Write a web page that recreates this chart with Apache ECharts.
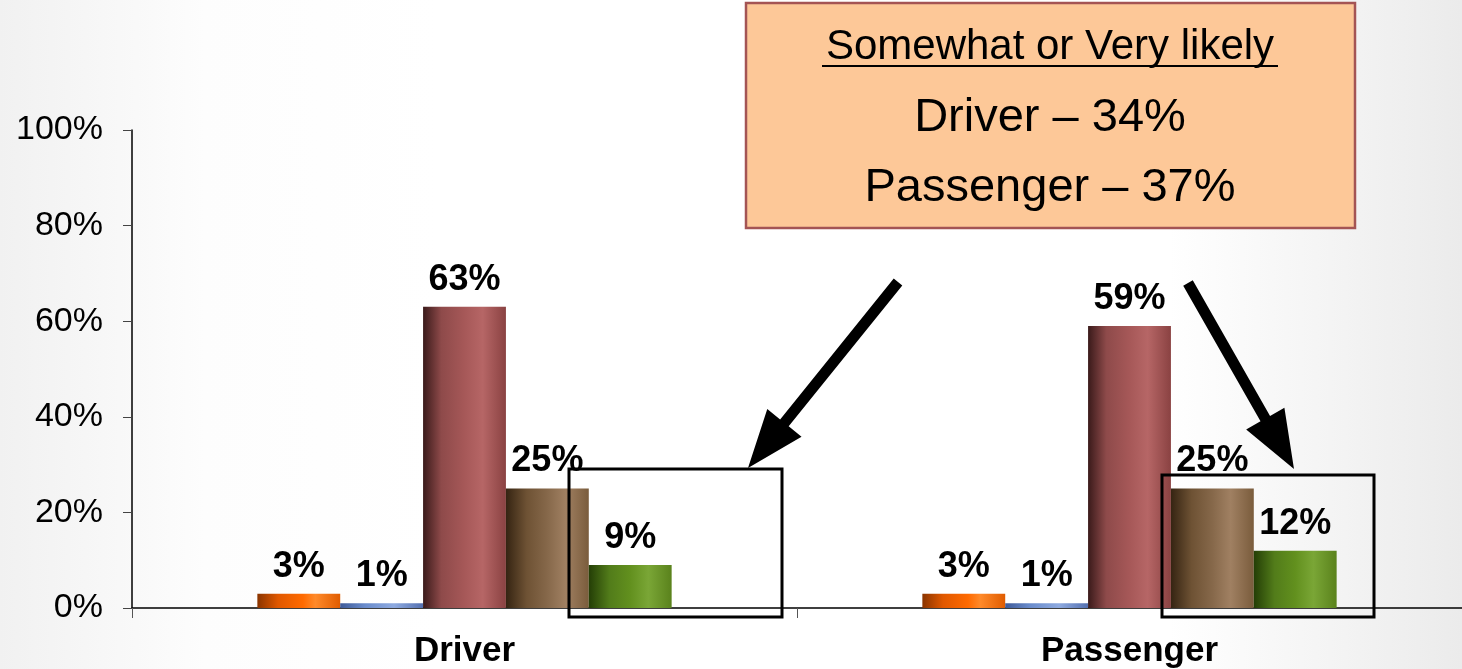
<!DOCTYPE html>
<html>
<head>
<meta charset="utf-8">
<script src="https://cdn.jsdelivr.net/npm/echarts@6/dist/echarts.min.js"></script>
<style>
html,body{margin:0;padding:0;}
#chart{width:1462px;height:669px;}
</style>
</head>
<body>
<div id="chart"></div>
<script>
// ---- data ----
var categories = ['Driver', 'Passenger'];
var seriesNames = ["Don't know", 'Refused', 'Not likely', 'Somewhat likely', 'Very likely'];
var dontKnow = [3, 3];
var refused = [1, 1];
var notLikely = [63, 59];
var somewhatLikely = [25, 25];
var veryLikely = [9, 12];
var yTicks = [0, 20, 40, 60, 80, 100];
var calloutTitle = 'Somewhat or Very likely';
var calloutLines = ['Driver \u2013 34%', 'Passenger \u2013 37%'];

var seriesValues = [dontKnow, refused, notLikely, somewhatLikely, veryLikely];

function grad(stops) {
  return new echarts.graphic.LinearGradient(0, 0, 1, 0, stops.map(function (s) { return { offset: s[0], color: s[1] }; }));
}
var barColors = [
  grad([[0, '#8a3400'], [0.25, '#e05800'], [0.55, '#ff6a00'], [0.7, '#ff8a2a'], [1, '#e05c00']]),
  grad([[0, '#3e5a98'], [0.3, '#6a8ccc'], [0.65, '#8eaae0'], [1, '#5470b0']]),
  grad([[0, '#3a1a1a'], [0.22, '#8e4a4a'], [0.5, '#a65858'], [0.72, '#b66666'], [1, '#8a4242']]),
  grad([[0, '#352412'], [0.25, '#6e5234'], [0.5, '#86684a'], [0.72, '#a08062'], [1, '#7a5c3c']]),
  grad([[0, '#243e06'], [0.25, '#527c1a'], [0.5, '#62901e'], [0.72, '#7aa636'], [1, '#5a821c']])
];

var chart = echarts.init(document.getElementById('chart'));

var textFont = 'Liberation Sans, Arial, sans-serif';

var series = seriesValues.map(function (vals, i) {
  return {
    name: seriesNames[i],
    type: 'bar',
    data: vals,
    barGap: '0%',
    barCategoryGap: '37.7%',
    itemStyle: { color: barColors[i] },
    label: {
      show: true,
      position: 'top',
      distance: 9,
      formatter: '{c}%',
      fontFamily: textFont,
      fontWeight: 'bold',
      fontSize: 36,
      color: '#000'
    }
  };
});

// arrow helper
function arrow(x1, y1, x2, y2) {
  var dx = x2 - x1, dy = y2 - y1;
  var len = Math.sqrt(dx * dx + dy * dy);
  var ux = dx / len, uy = dy / len;
  var px = -uy, py = ux;
  var headLen = 58, headW = 22, shaftW = 5.5;
  var bx = x2 - ux * headLen, by = y2 - uy * headLen;
  return {
    type: 'polygon',
    shape: {
      points: [
        [x1 + px * shaftW, y1 + py * shaftW],
        [bx + px * shaftW, by + py * shaftW],
        [bx + px * headW, by + py * headW],
        [x2, y2],
        [bx - px * headW, by - py * headW],
        [bx - px * shaftW, by - py * shaftW],
        [x1 - px * shaftW, y1 - py * shaftW]
      ]
    },
    style: { fill: '#000' },
    z: 100
  };
}

var option = {
  animation: false,
  backgroundColor: new echarts.graphic.LinearGradient(0, 0, 1, 0, [
    { offset: 0, color: '#f1f1f1' },
    { offset: 0.14, color: '#fdfdfd' },
    { offset: 0.3, color: '#ffffff' },
    { offset: 0.8, color: '#ffffff' },
    { offset: 1, color: '#ebebeb' }
  ]),
  grid: { left: 132, right: 0, top: 130, bottom: 61, containLabel: false },
  xAxis: {
    type: 'category',
    data: categories,
    axisLine: { lineStyle: { color: '#000', width: 1.5 } },
    axisTick: { show: true, length: 10, lineStyle: { color: '#555', width: 1 } },
    axisLabel: {
      margin: 26,
      fontFamily: textFont,
      fontWeight: 'bold',
      fontSize: 35,
      color: '#000'
    }
  },
  yAxis: {
    type: 'value',
    min: 0,
    max: 100,
    interval: 20,
    axisLine: { show: true, lineStyle: { color: '#000', width: 1.5 } },
    axisTick: { show: true, length: 9, lineStyle: { color: '#444' } },
    splitLine: { show: false },
    axisLabel: {
      margin: 29,
      fontFamily: textFont,
      fontSize: 34,
      color: '#000',
      formatter: function (v) { return yTicks.indexOf(v) >= 0 ? v + '%' : ''; }
    }
  },
  series: series,
  graphic: [
    {
      type: 'rect',
      shape: { x: 746, y: 3, width: 609, height: 225 },
      style: { fill: '#fdc898', stroke: '#a45454', lineWidth: 2.5 },
      z: 90
    },
    {
      type: 'text',
      x: 1050, y: 47,
      style: { text: calloutTitle, font: '42px ' + textFont, fill: '#000', align: 'center', verticalAlign: 'middle' },
      z: 91
    },
    {
      type: 'line',
      shape: { x1: 822, y1: 66, x2: 1278, y2: 66 },
      style: { stroke: '#000', lineWidth: 2 },
      z: 91
    },
    {
      type: 'text',
      x: 1050, y: 118,
      style: { text: calloutLines[0], font: '47px ' + textFont, fill: '#000', align: 'center', verticalAlign: 'middle' },
      z: 91
    },
    {
      type: 'text',
      x: 1050, y: 188,
      style: { text: calloutLines[1], font: '47px ' + textFont, fill: '#000', align: 'center', verticalAlign: 'middle' },
      z: 91
    },
    {
      type: 'rect',
      shape: { x: 569, y: 469, width: 213, height: 148 },
      style: { fill: 'none', stroke: '#000', lineWidth: 3 },
      z: 95
    },
    {
      type: 'rect',
      shape: { x: 1162, y: 475, width: 212, height: 142 },
      style: { fill: 'none', stroke: '#000', lineWidth: 3 },
      z: 95
    },
    arrow(898, 282, 748, 468),
    arrow(1188, 283, 1294, 469)
  ]
};

chart.setOption(option);
</script>
</body>
</html>
